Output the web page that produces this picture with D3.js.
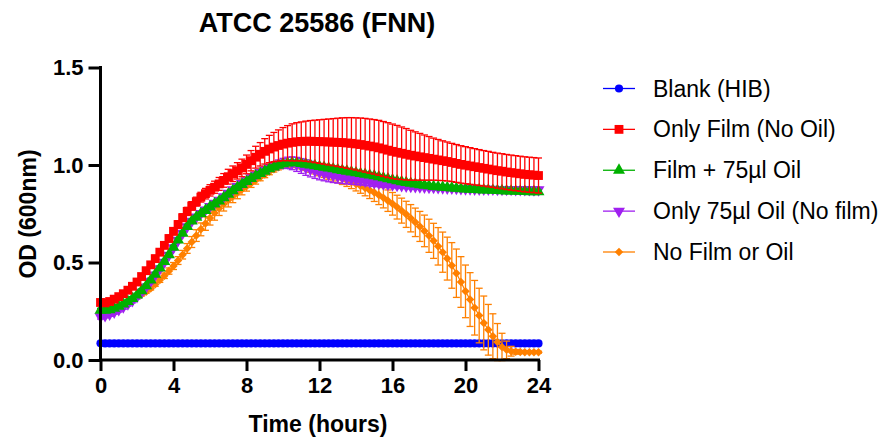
<!DOCTYPE html>
<html>
<head>
<meta charset="utf-8">
<script src="https://cdn.jsdelivr.net/npm/d3@7"></script>
<style>
  html, body { margin: 0; padding: 0; background: #fff; }
  svg { display: block; font-family: "Liberation Sans", Arial, sans-serif; }
</style>
</head>
<body>
<svg id="chart" width="882" height="439"></svg>
<script>
// ---------- DATA ----------
const title = "ATCC 25586 (FNN)";
const xLabel = "Time (hours)";
const yLabel = "OD (600nm)";
const xTicks = [0, 4, 8, 12, 16, 20, 24];
const yTicks = [0.0, 0.5, 1.0, 1.5];
const yTickLabels = ["0.0", "0.5", "1.0", "1.5"];

const seriesNames = ["Blank (HIB)", "Only Film (No Oil)", "Film + 75µl Oil", "Only 75µl Oil (No film)", "No Film or Oil"];
const seriesColors = ["#0000FF", "#FF0000", "#00B000", "#A020F0", "#FF8000"];

const timeHours = [
  0, 0.25, 0.5, 0.75, 1, 1.25, 1.5, 1.75, 2, 2.25, 2.5, 2.75,
  3, 3.25, 3.5, 3.75, 4, 4.25, 4.5, 4.75, 5, 5.25, 5.5, 5.75,
  6, 6.25, 6.5, 6.75, 7, 7.25, 7.5, 7.75, 8, 8.25, 8.5, 8.75,
  9, 9.25, 9.5, 9.75, 10, 10.25, 10.5, 10.75, 11, 11.25, 11.5, 11.75,
  12, 12.25, 12.5, 12.75, 13, 13.25, 13.5, 13.75, 14, 14.25, 14.5, 14.75,
  15, 15.25, 15.5, 15.75, 16, 16.25, 16.5, 16.75, 17, 17.25, 17.5, 17.75,
  18, 18.25, 18.5, 18.75, 19, 19.25, 19.5, 19.75, 20, 20.25, 20.5, 20.75,
  21, 21.25, 21.5, 21.75, 22, 22.25, 22.5, 22.75, 23, 23.25, 23.5, 23.75, 24
];

const blankHIB = [
  0.086, 0.085, 0.085, 0.085, 0.085, 0.085, 0.085, 0.085, 0.085, 0.085, 0.085, 0.085,
  0.085, 0.085, 0.085, 0.085, 0.085, 0.085, 0.085, 0.085, 0.085, 0.085, 0.085, 0.085,
  0.085, 0.085, 0.085, 0.085, 0.085, 0.085, 0.085, 0.085, 0.085, 0.085, 0.085, 0.085,
  0.085, 0.085, 0.085, 0.085, 0.085, 0.085, 0.085, 0.085, 0.085, 0.085, 0.085, 0.085,
  0.085, 0.085, 0.085, 0.085, 0.085, 0.085, 0.085, 0.085, 0.085, 0.085, 0.085, 0.085,
  0.085, 0.085, 0.085, 0.085, 0.085, 0.085, 0.085, 0.085, 0.085, 0.085, 0.085, 0.085,
  0.085, 0.085, 0.085, 0.085, 0.085, 0.085, 0.085, 0.085, 0.085, 0.085, 0.085, 0.085,
  0.085, 0.085, 0.085, 0.085, 0.085, 0.085, 0.085, 0.085, 0.085, 0.085, 0.085, 0.085, 0.085
];
const blankErr = [
  0.002, 0.002, 0.002, 0.002, 0.002, 0.002, 0.002, 0.002, 0.002, 0.002, 0.002, 0.002,
  0.002, 0.002, 0.002, 0.002, 0.002, 0.002, 0.002, 0.002, 0.002, 0.002, 0.002, 0.002,
  0.002, 0.002, 0.002, 0.002, 0.002, 0.002, 0.002, 0.002, 0.002, 0.002, 0.002, 0.002,
  0.002, 0.002, 0.002, 0.002, 0.002, 0.002, 0.002, 0.002, 0.002, 0.002, 0.002, 0.002,
  0.002, 0.002, 0.002, 0.002, 0.002, 0.002, 0.002, 0.002, 0.002, 0.002, 0.002, 0.002,
  0.002, 0.002, 0.002, 0.002, 0.002, 0.002, 0.002, 0.002, 0.002, 0.002, 0.002, 0.002,
  0.002, 0.002, 0.002, 0.002, 0.002, 0.002, 0.002, 0.002, 0.002, 0.002, 0.002, 0.002,
  0.002, 0.002, 0.002, 0.002, 0.002, 0.002, 0.002, 0.002, 0.002, 0.002, 0.002, 0.002, 0.002
];

const onlyFilm = [
  0.295, 0.293, 0.300, 0.312, 0.325, 0.340, 0.358, 0.378, 0.400, 0.428, 0.458, 0.488,
  0.520, 0.553, 0.588, 0.623, 0.660, 0.695, 0.730, 0.762, 0.790, 0.812, 0.835, 0.853,
  0.870, 0.886, 0.903, 0.921, 0.940, 0.955, 0.970, 0.985, 1.003, 1.022, 1.040, 1.055,
  1.070, 1.082, 1.092, 1.100, 1.107, 1.112, 1.116, 1.119, 1.121, 1.122, 1.122, 1.121,
  1.120, 1.119, 1.118, 1.117, 1.116, 1.115, 1.113, 1.111, 1.108, 1.105, 1.101, 1.097,
  1.093, 1.088, 1.082, 1.076, 1.070, 1.065, 1.060, 1.055, 1.050, 1.046, 1.042, 1.038,
  1.034, 1.030, 1.026, 1.022, 1.018, 1.013, 1.008, 1.003, 0.999, 0.995, 0.991, 0.987,
  0.983, 0.979, 0.975, 0.971, 0.968, 0.964, 0.961, 0.958, 0.955, 0.952, 0.950, 0.948, 0.946
];
const onlyFilmErr = [
  0.012, 0.012, 0.012, 0.012, 0.012, 0.013, 0.013, 0.014, 0.014, 0.015, 0.015, 0.016,
  0.016, 0.017, 0.017, 0.018, 0.018, 0.019, 0.020, 0.021, 0.022, 0.023, 0.025, 0.027,
  0.029, 0.031, 0.033, 0.035, 0.038, 0.040, 0.042, 0.045, 0.048, 0.052, 0.056, 0.060,
  0.065, 0.070, 0.075, 0.080, 0.085, 0.090, 0.095, 0.098, 0.100, 0.103, 0.106, 0.109,
  0.112, 0.115, 0.118, 0.121, 0.124, 0.127, 0.130, 0.132, 0.134, 0.136, 0.138, 0.139,
  0.140, 0.141, 0.141, 0.141, 0.140, 0.138, 0.135, 0.132, 0.128, 0.124, 0.120, 0.116,
  0.112, 0.108, 0.105, 0.102, 0.100, 0.098, 0.097, 0.096, 0.095, 0.094, 0.093, 0.092,
  0.091, 0.091, 0.090, 0.090, 0.090, 0.090, 0.090, 0.090, 0.090, 0.090, 0.090, 0.090, 0.090
];

const filmOil = [
  0.255, 0.255, 0.258, 0.265, 0.275, 0.287, 0.300, 0.315, 0.333, 0.355, 0.380, 0.410,
  0.440, 0.472, 0.505, 0.540, 0.578, 0.615, 0.650, 0.685, 0.712, 0.732, 0.750, 0.767,
  0.785, 0.800, 0.815, 0.832, 0.850, 0.868, 0.885, 0.900, 0.915, 0.930, 0.944, 0.956,
  0.968, 0.980, 0.990, 0.998, 1.006, 1.010, 1.012, 1.011, 1.008, 1.004, 1.000, 0.996,
  0.992, 0.988, 0.984, 0.980, 0.976, 0.972, 0.968, 0.964, 0.960, 0.956, 0.952, 0.948,
  0.944, 0.939, 0.934, 0.929, 0.924, 0.919, 0.914, 0.910, 0.906, 0.902, 0.899, 0.896,
  0.893, 0.890, 0.888, 0.886, 0.884, 0.882, 0.880, 0.878, 0.877, 0.876, 0.874, 0.873,
  0.872, 0.871, 0.870, 0.869, 0.868, 0.867, 0.866, 0.865, 0.865, 0.864, 0.863, 0.863, 0.862
];
const filmOilErr = [
  0.010, 0.010, 0.010, 0.010, 0.010, 0.010, 0.010, 0.010, 0.010, 0.010, 0.010, 0.010,
  0.010, 0.010, 0.010, 0.010, 0.010, 0.010, 0.010, 0.010, 0.010, 0.010, 0.010, 0.010,
  0.010, 0.010, 0.010, 0.010, 0.010, 0.010, 0.010, 0.010, 0.010, 0.010, 0.010, 0.010,
  0.010, 0.010, 0.011, 0.011, 0.012, 0.012, 0.012, 0.012, 0.012, 0.012, 0.012, 0.012,
  0.012, 0.012, 0.012, 0.012, 0.012, 0.012, 0.012, 0.012, 0.011, 0.011, 0.011, 0.011,
  0.010, 0.010, 0.010, 0.010, 0.010, 0.010, 0.010, 0.010, 0.010, 0.010, 0.010, 0.010,
  0.010, 0.010, 0.010, 0.010, 0.010, 0.010, 0.010, 0.010, 0.010, 0.010, 0.010, 0.010,
  0.010, 0.010, 0.010, 0.010, 0.010, 0.010, 0.010, 0.010, 0.010, 0.010, 0.010, 0.010, 0.010
];

const onlyOil = [
  0.222, 0.228, 0.236, 0.246, 0.258, 0.272, 0.288, 0.305, 0.325, 0.348, 0.374, 0.404,
  0.436, 0.468, 0.502, 0.538, 0.576, 0.614, 0.650, 0.684, 0.712, 0.733, 0.752, 0.770,
  0.788, 0.804, 0.820, 0.837, 0.855, 0.873, 0.890, 0.905, 0.920, 0.935, 0.949, 0.962,
  0.974, 0.986, 0.996, 1.004, 1.009, 1.011, 1.009, 1.003, 0.995, 0.987, 0.979, 0.971,
  0.964, 0.958, 0.952, 0.947, 0.942, 0.938, 0.934, 0.930, 0.926, 0.922, 0.918, 0.914,
  0.910, 0.907, 0.904, 0.901, 0.898, 0.896, 0.894, 0.892, 0.890, 0.889, 0.888, 0.887,
  0.886, 0.885, 0.884, 0.883, 0.882, 0.881, 0.880, 0.879, 0.878, 0.878, 0.877, 0.877,
  0.876, 0.876, 0.876, 0.875, 0.875, 0.875, 0.875, 0.874, 0.874, 0.874, 0.874, 0.873, 0.873
];
const onlyOilErr = [
  0.012, 0.012, 0.012, 0.012, 0.012, 0.012, 0.012, 0.012, 0.012, 0.012, 0.012, 0.012,
  0.012, 0.012, 0.012, 0.012, 0.012, 0.012, 0.012, 0.012, 0.012, 0.012, 0.012, 0.012,
  0.012, 0.012, 0.012, 0.012, 0.012, 0.012, 0.012, 0.012, 0.013, 0.013, 0.014, 0.014,
  0.015, 0.017, 0.019, 0.022, 0.025, 0.029, 0.033, 0.036, 0.038, 0.040, 0.040, 0.040,
  0.040, 0.039, 0.038, 0.037, 0.035, 0.033, 0.031, 0.029, 0.026, 0.024, 0.022, 0.021,
  0.020, 0.018, 0.017, 0.016, 0.014, 0.013, 0.013, 0.012, 0.012, 0.012, 0.012, 0.012,
  0.012, 0.012, 0.012, 0.012, 0.012, 0.012, 0.012, 0.012, 0.012, 0.012, 0.012, 0.012,
  0.012, 0.012, 0.012, 0.012, 0.012, 0.012, 0.012, 0.012, 0.012, 0.012, 0.012, 0.012, 0.012
];

const noFilmOil = [
  0.250, 0.252, 0.258, 0.266, 0.275, 0.285, 0.297, 0.309, 0.322, 0.336, 0.350, 0.367,
  0.388, 0.410, 0.432, 0.456, 0.482, 0.510, 0.540, 0.572, 0.605, 0.638, 0.670, 0.700,
  0.728, 0.754, 0.778, 0.800, 0.820, 0.840, 0.858, 0.875, 0.891, 0.907, 0.922, 0.937,
  0.951, 0.965, 0.978, 0.989, 0.997, 1.002, 1.004, 1.002, 0.997, 0.990, 0.982, 0.974,
  0.966, 0.958, 0.950, 0.943, 0.936, 0.929, 0.921, 0.912, 0.902, 0.892, 0.882, 0.871,
  0.859, 0.846, 0.832, 0.817, 0.801, 0.784, 0.766, 0.747, 0.727, 0.706, 0.685, 0.662,
  0.637, 0.611, 0.583, 0.553, 0.520, 0.485, 0.445, 0.400, 0.352, 0.310, 0.268, 0.228,
  0.190, 0.155, 0.122, 0.092, 0.067, 0.052, 0.045, 0.042, 0.041, 0.040, 0.040, 0.040, 0.040
];
const noFilmOilErr = [
  0.008, 0.008, 0.008, 0.008, 0.008, 0.008, 0.008, 0.008, 0.008, 0.008, 0.008, 0.008,
  0.010, 0.012, 0.014, 0.016, 0.018, 0.020, 0.022, 0.025, 0.028, 0.030, 0.033, 0.035,
  0.036, 0.037, 0.037, 0.036, 0.035, 0.033, 0.031, 0.028, 0.025, 0.022, 0.020, 0.018,
  0.016, 0.015, 0.014, 0.014, 0.014, 0.014, 0.015, 0.016, 0.017, 0.018, 0.019, 0.020,
  0.021, 0.022, 0.023, 0.025, 0.027, 0.029, 0.031, 0.033, 0.035, 0.037, 0.040, 0.043,
  0.046, 0.049, 0.052, 0.055, 0.058, 0.061, 0.064, 0.067, 0.070, 0.073, 0.077, 0.081,
  0.085, 0.090, 0.096, 0.103, 0.110, 0.117, 0.124, 0.130, 0.135, 0.138, 0.140, 0.140,
  0.138, 0.130, 0.115, 0.095, 0.070, 0.045, 0.025, 0.012, 0.008, 0.006, 0.005, 0.005, 0.005
];

// ---------- BUILD ----------
const svg = d3.select("#chart");
const x = d3.scaleLinear().domain([0, 24]).range([100.5, 538.5]);
const y = d3.scaleLinear().domain([0, 1.5]).range([360, 67.5]);

const symbols = [
  { type: d3.symbolCircle, size: 52, rot: 0 },
  { type: d3.symbolSquare, size: 78, rot: 0 },
  { type: d3.symbolTriangle, size: 62, rot: 0 },
  { type: d3.symbolTriangle, size: 62, rot: 180 },
  { type: d3.symbolSquare, size: 36, rot: 45 }
];

const series = [
  { vals: blankHIB, err: blankErr },
  { vals: onlyFilm, err: onlyFilmErr },
  { vals: filmOil, err: filmOilErr },
  { vals: onlyOil, err: onlyOilErr },
  { vals: noFilmOil, err: noFilmOilErr }
].map((s, i) => ({ ...s, name: seriesNames[i], color: seriesColors[i], sym: symbols[i],
  pts: timeHours.map((t, j) => ({ t, v: s.vals[j], e: s.err[j] })) }));

// draw order: blue bottom, then orange, purple, green, red on top
const drawOrder = [0, 4, 3, 2, 1];
const plot = svg.append("g");
const capW = 3.5;

drawOrder.forEach(i => {
  const s = series[i];
  const g = plot.append("g");
  // error bars
  const eb = g.append("g").attr("stroke", s.color).attr("stroke-width", 1.3);
  s.pts.forEach(p => {
    if (p.e <= 0.003) return;
    const yt = y(p.v + p.e), yb = y(p.v - p.e), cx = x(p.t);
    eb.append("line").attr("x1", cx).attr("x2", cx).attr("y1", yt).attr("y2", yb);
    eb.append("line").attr("x1", cx - capW).attr("x2", cx + capW).attr("y1", yt).attr("y2", yt);
    eb.append("line").attr("x1", cx - capW).attr("x2", cx + capW).attr("y1", yb).attr("y2", yb);
  });
  // line
  g.append("path").datum(s.pts)
    .attr("fill", "none").attr("stroke", s.color).attr("stroke-width", 1.2)
    .attr("d", d3.line().x(d => x(d.t)).y(d => y(d.v)));
  // markers
  const sym = d3.symbol().type(s.sym.type).size(s.sym.size);
  g.append("g").selectAll("path").data(s.pts).join("path")
    .attr("d", sym)
    .attr("fill", s.color)
    .attr("transform", d => `translate(${x(d.t)},${y(d.v)}) rotate(${s.sym.rot})`);
});

// axes
const axisG = svg.append("g");
const xAxis = d3.axisBottom(x).tickValues(xTicks).tickSize(11).tickPadding(6).tickFormat(d3.format("d"));
const yAxis = d3.axisLeft(y).tickValues(yTicks).tickSize(12).tickPadding(5)
  .tickFormat((d, i) => yTickLabels[i]);

const gx = axisG.append("g").attr("transform", "translate(0,360)").call(xAxis);
const gy = axisG.append("g").attr("transform", "translate(100.5,0)").call(yAxis);
[gx, gy].forEach(g => {
  g.select(".domain").attr("stroke", "#000").attr("stroke-width", 3).attr("stroke-linecap", "square");
  g.selectAll(".tick line").attr("stroke", "#000").attr("stroke-width", 3);
  g.selectAll(".tick text").attr("fill", "#000").attr("font-size", 22).attr("font-weight", "bold")
    .attr("font-family", "'Liberation Sans', Arial, sans-serif");
});
gx.select(".domain").attr("d", `M${x(0)},0H${x(24)}`);
gy.select(".domain").attr("d", `M0,${y(0)}V${y(1.5)}`);

// title & axis labels
svg.append("text").attr("x", 317).attr("y", 32).attr("text-anchor", "middle")
  .attr("font-size", 27).attr("font-weight", "bold").text(title);
svg.append("text").attr("x", 318).attr("y", 432).attr("text-anchor", "middle")
  .attr("font-size", 23).attr("font-weight", "bold").text(xLabel);
svg.append("text").attr("transform", "translate(36,214) rotate(-90)").attr("text-anchor", "middle")
  .attr("font-size", 23).attr("font-weight", "bold").text(yLabel);

// legend
const legend = svg.append("g");
const legY = d3.scalePoint().domain(d3.range(series.length)).range([88.5, 252]);
series.forEach((s, i) => {
  const yy = legY(i);
  const lg = legend.append("g");
  lg.append("line").attr("x1", 603).attr("x2", 635).attr("y1", yy).attr("y2", yy)
    .attr("stroke", s.color).attr("stroke-width", 1.3);
  lg.append("path").attr("d", d3.symbol().type(s.sym.type).size(s.sym.size)())
    .attr("fill", s.color).attr("transform", `translate(619,${yy}) rotate(${s.sym.rot})`);
  lg.append("text").attr("x", 653).attr("y", yy).attr("dy", "0.35em")
    .attr("font-size", 23).attr("fill", "#000").text(s.name);
});
</script>
</body>
</html>
